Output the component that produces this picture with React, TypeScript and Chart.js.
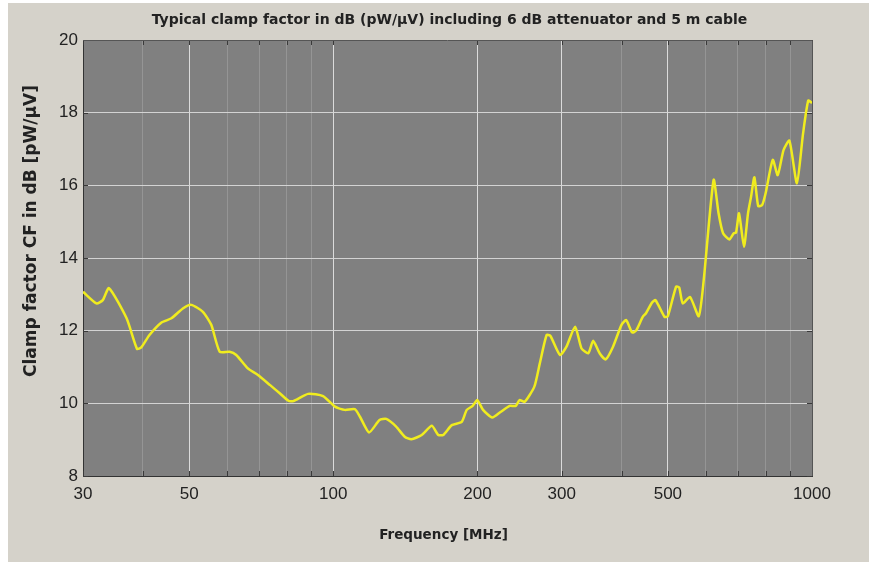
import React, { useEffect, useRef } from 'react';
import { Chart, registerables } from 'chart.js';

Chart.register(...registerables);

const TITLE = 'Typical clamp factor in dB (pW/µV) including 6 dB attenuator and 5 m cable';
const X_TITLE = 'Frequency [MHz]';
const Y_TITLE = 'Clamp factor CF in dB [pW/µV]';

const frequencies = [
  30, 32, 33, 34, 37, 38.9, 39.7, 41.3, 43.7, 45.9, 48.5, 50.5, 53.4, 55.6, 57.9, 60.7, 62.7, 66.3, 69.6,
  73.8, 77.4, 80.6, 82.5, 88.6, 95.2, 100.8, 105.7, 110.9, 113.7, 118.8, 124.9, 129, 135.3, 141, 145.6,
  153, 160.6, 165.7, 169.7, 176.8, 185.5, 190, 195.5, 199.9, 205.5, 214.8, 224, 233.6, 240.6, 245, 251,
  263, 270, 279, 284, 297.6, 307, 320, 330, 341, 349, 360, 370.7, 384, 400, 409, 421, 429, 443, 450,
  463, 471, 492, 500, 520, 528, 537, 556, 580, 594, 623, 638, 652, 672, 686, 694, 704, 721, 735, 746,
  758, 772, 787, 800, 828, 848, 872, 897, 930, 958, 982, 1000,
];

const clampFactor = [
  13.07, 12.75, 12.84, 13.17, 12.34, 11.5, 11.54, 11.88, 12.22, 12.34, 12.61, 12.71, 12.52, 12.16, 11.42, 11.42, 11.33, 10.96, 10.78,
  10.5, 10.27, 10.07, 10.06, 10.26, 10.2, 9.91, 9.82, 9.84, 9.63, 9.2, 9.54, 9.57, 9.36, 9.08, 9.01,
  9.13, 9.38, 9.13, 9.13, 9.4, 9.49, 9.82, 9.93, 10.09, 9.82, 9.61, 9.77, 9.93, 9.93, 10.09, 10.04,
  10.46, 11.1, 11.88, 11.86, 11.33, 11.56, 12.11, 11.51, 11.38, 11.72, 11.38, 11.21, 11.56, 12.16, 12.29, 11.95, 12.0, 12.38, 12.48,
  12.77, 12.84, 12.38, 12.4, 13.21, 13.19, 12.75, 12.93, 12.4, 13.39, 16.15, 15.23, 14.68, 14.51, 14.68, 14.7, 15.23, 14.31, 15.23, 15.69,
  16.22, 15.43, 15.46, 15.78, 16.7, 16.28, 16.97, 17.23, 16.06, 17.43, 18.33, 18.27,
];

const xGridTicks = [30, 40, 50, 60, 70, 80, 90, 100, 200, 300, 400, 500, 600, 700, 800, 900, 1000];
const xLabeledTicks = [30, 50, 100, 200, 300, 500, 1000];
const yMin = 8;
const yMax = 20;
const yStep = 2;

const framePlugin = {
  id: 'frame',
  beforeDraw(chart: any) {
    const { ctx, chartArea: a } = chart;
    ctx.save();
    ctx.fillStyle = '#808080';
    ctx.fillRect(a.left, a.top, a.right - a.left, a.bottom - a.top);
    ctx.restore();
  },
  afterDraw(chart: any) {
    const { ctx, chartArea: a, scales } = chart;
    ctx.save();
    ctx.strokeStyle = '#3a3a3a';
    ctx.lineWidth = 1;
    const tl = 5;
    ctx.beginPath();
    for (const v of xGridTicks) {
      const x = Math.round(scales.x.getPixelForValue(v)) + 0.5;
      ctx.moveTo(x, a.bottom);
      ctx.lineTo(x, a.bottom - tl);
      ctx.moveTo(x, a.top);
      ctx.lineTo(x, a.top + tl);
    }
    for (let v = yMin; v <= yMax; v += yStep) {
      const y = Math.round(scales.y.getPixelForValue(v)) + 0.5;
      ctx.moveTo(a.left, y);
      ctx.lineTo(a.left + tl, y);
      ctx.moveTo(a.right, y);
      ctx.lineTo(a.right - tl, y);
    }
    ctx.stroke();
    ctx.strokeStyle = '#555555';
    ctx.beginPath();
    ctx.moveTo(a.left, a.top + 0.5);
    ctx.lineTo(a.right + 0.5, a.top + 0.5);
    ctx.lineTo(a.right + 0.5, a.bottom);
    ctx.stroke();

    ctx.fillStyle = '#222222';
    ctx.textAlign = 'center';
    ctx.textBaseline = 'middle';
    ctx.font = 'bold 14px "DejaVu Sans"';
    ctx.fillText(TITLE, (a.left + a.right) / 2 + 2, 17);
    ctx.font = 'bold 13.5px "DejaVu Sans"';
    ctx.fillText(X_TITLE, (a.left + a.right) / 2 - 4, 532);
    ctx.font = 'bold 17px "DejaVu Sans"';
    ctx.translate(24, 228);
    ctx.rotate(-Math.PI / 2);
    ctx.fillText(Y_TITLE, 0, 0);
    ctx.restore();
  },
};

export default function App() {
  const ref = useRef<HTMLCanvasElement | null>(null);
  useEffect(() => {
    if (!ref.current) return;
    const chart = new Chart(ref.current, {
      type: 'line',
      data: {
        datasets: [
          {
            data: frequencies.map((f, i) => ({ x: f, y: clampFactor[i] })),
            borderColor: 'rgb(240,236,30)',
            borderWidth: 2.5,
            pointRadius: 0,
            tension: 0.2,
            fill: false,
          },
        ],
      },
      options: {
        animation: false,
        responsive: true,
        maintainAspectRatio: false,
        layout: { padding: { top: 37, right: 57, left: 0, bottom: 0 } },
        plugins: { legend: { display: false }, tooltip: { enabled: false }, title: { display: false } },
        scales: {
          x: {
            type: 'logarithmic',
            min: 30,
            max: 1000,
            afterBuildTicks: (scale: any) => {
              scale.ticks = xGridTicks.map((v) => ({ value: v }));
            },
            afterFit: (scale: any) => {
              scale.height = 86;
            },
            ticks: {
              autoSkip: false,
              maxRotation: 0,
              padding: 8,
              color: '#222222',
              font: { family: '"Liberation Sans", Arial', size: 17 },
              callback: (value: any) => (xLabeledTicks.includes(Number(value)) ? String(value) : ''),
            },
            grid: {
              drawTicks: false,
              color: (ctx: any) =>
                xLabeledTicks.includes(ctx.tick?.value) ? 'rgba(228,228,228,0.9)' : 'rgba(150,150,150,0.95)',
              lineWidth: 1,
            },
            border: { display: true, color: '#333333', width: 1 },
          },
          y: {
            type: 'linear',
            min: yMin,
            max: yMax,
            afterFit: (scale: any) => {
              scale.width = 75;
            },
            ticks: {
              stepSize: yStep,
              padding: 5,
              color: '#222222',
              font: { family: '"Liberation Sans", Arial', size: 17 },
            },
            grid: { drawTicks: false, color: 'rgba(215,215,215,0.95)', lineWidth: 1 },
            border: { display: true, color: '#333333', width: 1 },
          },
        },
      },
      plugins: [framePlugin],
    });
    return () => chart.destroy();
  }, []);
  return (
    <div style={{ position: 'absolute', left: 0, top: 0, width: 869, height: 563, background: '#ffffff' }}>
      <div style={{ position: 'absolute', left: 8, top: 3, width: 861, height: 559, background: '#d5d2ca' }}>
        <canvas ref={ref} />
      </div>
    </div>
  );
}
